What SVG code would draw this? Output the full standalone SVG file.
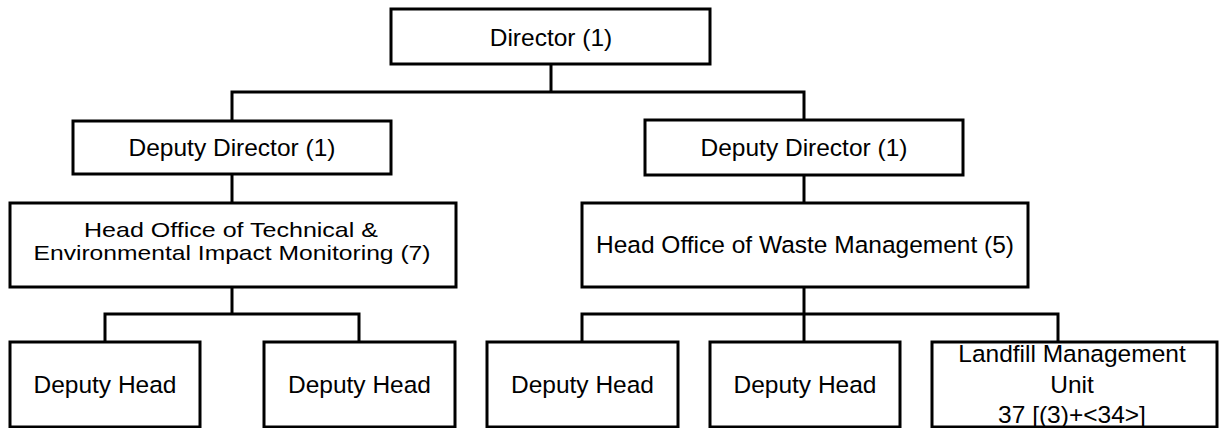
<svg xmlns="http://www.w3.org/2000/svg" width="1219" height="428" viewBox="0 0 1219 428">
  <style>
    .box { fill: #ffffff; stroke: #000000; stroke-width: 3; }
    .link { fill: none; stroke: #000000; stroke-width: 3; }
    text { font-family: "Liberation Sans", Arial, sans-serif; font-size: 24.5px; fill: #000000; text-anchor: middle; }
    text.tight { font-size: 21px; }
  </style>
  <rect width="1219" height="428" fill="#ffffff"/>

  <g id="connectors">
    <polyline class="link" points="551,64 551,92"/>
    <polyline class="link" points="232,121 232,92 804,92 804,120"/>
    <polyline class="link" points="232,174 232,203"/>
    <polyline class="link" points="804,175 804,203"/>
    <polyline class="link" points="232,287 232,314"/>
    <polyline class="link" points="105,342 105,314 359,314 359,342"/>
    <polyline class="link" points="804,287 804,342"/>
    <polyline class="link" points="582,342 582,314 1058,314 1058,342"/>
  </g>

  <g id="director">
    <rect class="box" x="391" y="9" width="319" height="55"/>
    <text x="551" y="46">Director (1)</text>
  </g>

  <g id="deputy-director-left">
    <rect class="box" x="73" y="121" width="318" height="53"/>
    <text x="232" y="156">Deputy Director (1)</text>
  </g>

  <g id="deputy-director-right">
    <rect class="box" x="645" y="120" width="318" height="55"/>
    <text x="804" y="156">Deputy Director (1)</text>
  </g>

  <g id="head-office-technical">
    <rect class="box" x="10" y="203" width="446" height="84"/>
    <text class="tight" x="231" y="237" textLength="294" lengthAdjust="spacingAndGlyphs">Head Office of Technical &amp;</text>
    <text class="tight" x="232" y="260" textLength="397" lengthAdjust="spacingAndGlyphs">Environmental Impact Monitoring (7)</text>
  </g>

  <g id="head-office-waste">
    <rect class="box" x="582" y="203" width="446" height="84"/>
    <text x="805" y="253">Head Office of Waste Management (5)</text>
  </g>

  <g id="deputy-head-1">
    <rect class="box" x="10" y="342" width="190" height="85"/>
    <text x="105" y="393">Deputy Head</text>
  </g>

  <g id="deputy-head-2">
    <rect class="box" x="264" y="342" width="191" height="85"/>
    <text x="359.5" y="393">Deputy Head</text>
  </g>

  <g id="deputy-head-3">
    <rect class="box" x="487" y="342" width="191" height="85"/>
    <text x="582.5" y="393">Deputy Head</text>
  </g>

  <g id="deputy-head-4">
    <rect class="box" x="710" y="342" width="190" height="85"/>
    <text x="805" y="393">Deputy Head</text>
  </g>

  <g id="landfill-unit">
    <rect class="box" x="932" y="342" width="285" height="85"/>
    <text x="1072" y="362">Landfill Management</text>
    <text x="1072" y="393">Unit</text>
    <text x="1072" y="423">37 [(3)+&lt;34&gt;]</text>
  </g>
</svg>
